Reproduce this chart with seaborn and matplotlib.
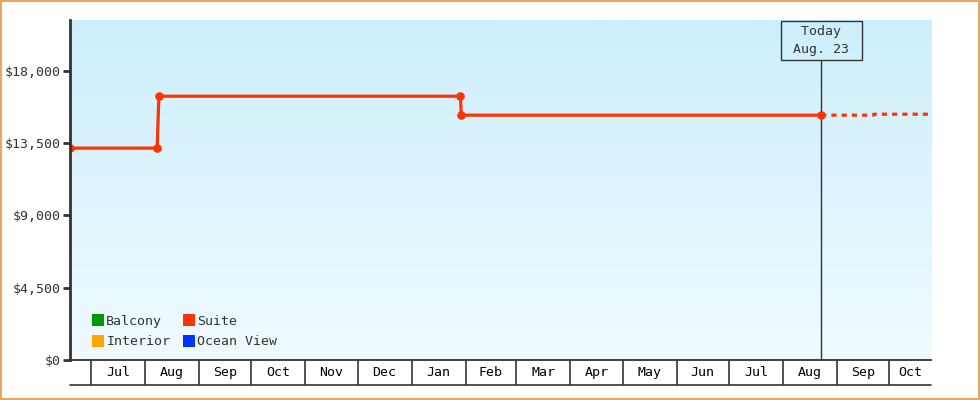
import numpy as np
import pandas as pd
import seaborn as sns
import matplotlib.pyplot as plt
from matplotlib.lines import Line2D
from matplotlib.patches import Rectangle
from matplotlib.ticker import FuncFormatter
from matplotlib.transforms import blended_transform_factory

# Suite price history
suite_dates = ["2023-06-19", "2023-08-08", "2023-08-09", "2024-01-29", "2024-01-29 12:00", "2024-08-23"]
suite_prices = [13180, 13180, 16410, 16410, 15230, 15230]

# projected part (dotted)
forecast_dates = ["2024-08-23", "2024-09-22", "2024-09-22 06:00", "2024-10-25"]
forecast_prices = [15230, 15230, 15290, 15290]

legend_labels = ["Balcony", "Interior", "Suite", "Ocean View"]
legend_colors = ["#009900", "#FFA500", "#FF3300", "#0033FF"]

y_ticks = [0, 4500, 9000, 13500, 18000]
today = "2024-08-23"
today_label = " Today \n Aug. 23 "
x_start, x_end = "2023-06-19", "2024-10-25"

suite_color = "#FF3300"
dark = "#333333"

sns.set_style("white")
plt.rcParams["font.family"] = ["DejaVu Sans Mono"]
plt.rcParams["font.size"] = 9.5

fig = plt.figure(figsize=(9.8, 4), dpi=100)
rect = [70 / 980, 40 / 400, 861 / 980, 340 / 400]

# gradient background
bg = fig.add_axes(rect, zorder=0)
top = np.array([204, 239, 252]) / 255
bottom = np.array([240, 250, 255]) / 255
t = np.linspace(0, 1, 256)[:, None]
grad = (top[None, :] * (1 - t) + bottom[None, :] * t)[:, None, :]
bg.imshow(grad, aspect="auto", extent=[0, 1, 0, 1])
bg.axis("off")

ax = fig.add_axes(rect, zorder=1)
ax.patch.set_alpha(0)

sns.lineplot(x=pd.to_datetime(suite_dates, format="ISO8601"), y=suite_prices, ax=ax,
             color=suite_color, lw=2.3, marker="o", markersize=6.2, markeredgewidth=0,
             estimator=None, sort=False)
sns.lineplot(x=pd.to_datetime(forecast_dates, format="ISO8601"), y=forecast_prices, ax=ax,
             color=suite_color, lw=2.3, linestyle=(0, (1.6, 1.6)), estimator=None, sort=False)

xmin, xmax = pd.Timestamp(x_start), pd.Timestamp(x_end)
ax.set_xlim(xmin, xmax)
ax.set_ylim(0, 21150)
ax.set_xlabel("")
ax.set_ylabel("")

# y axis
ax.set_yticks(y_ticks)
ax.yaxis.set_major_formatter(FuncFormatter(lambda v, p: f"${v:,.0f}"))
ax.tick_params(axis="y", left=True, length=5, width=2, color=dark, pad=2,
               labelsize=9.5, labelcolor=dark)

# x axis: month boxes
month_starts = pd.date_range(xmin, xmax, freq="MS")
ax.set_xticks(month_starts)
ax.set_xticklabels([])
ax.tick_params(axis="x", bottom=True, length=18, width=1.2, color=dark, direction="out")
edges = [xmin] + list(month_starts) + [xmax]
trans = blended_transform_factory(ax.transData, ax.transAxes)
for a, b in zip(edges[:-1], edges[1:]):
    if (b - a).days < 15:
        continue
    mid = a + (b - a) / 2
    ax.text(mid, -12.5 / 340, a.strftime("%b"), transform=trans, ha="center", va="center",
            fontsize=9.5, color="black")
ax.add_line(Line2D([0, 1], [-25 / 340, -25 / 340], transform=ax.transAxes, clip_on=False,
                   color=dark, lw=1.2))

for s in ["top", "right"]:
    ax.spines[s].set_visible(False)
ax.spines["left"].set_linewidth(2)
ax.spines["left"].set_color(dark)
ax.spines["bottom"].set_linewidth(1.3)
ax.spines["bottom"].set_color(dark)

# today marker
td = pd.Timestamp(today)
ax.plot([td, td], [0, 0.879], transform=trans, color=dark, lw=1, zorder=1)
ax.text(td, 0.94, today_label, transform=trans, ha="center", va="center",
        fontsize=9.5, color=dark, linespacing=1.45,
        bbox=dict(boxstyle="square,pad=0.35", fc="none", ec=dark, lw=1))

# legend
handles = [Line2D([], [], marker="s", linestyle="none", markersize=8,
                  markerfacecolor=c, markeredgewidth=0) for c in legend_colors]
ax.legend(handles, legend_labels, ncol=2, loc="lower left", bbox_to_anchor=(0.013, 0.0),
          frameon=False, handlelength=0.8, handletextpad=0.2, columnspacing=1.0,
          labelspacing=0.55, fontsize=9.5, labelcolor=dark)

# outer border
fig.patches.append(Rectangle((0.001, 0.002), 0.998, 0.996, transform=fig.transFigure,
                             fill=False, ec="#E8A862", lw=1.5))

fig.savefig("out.png", dpi=100)
